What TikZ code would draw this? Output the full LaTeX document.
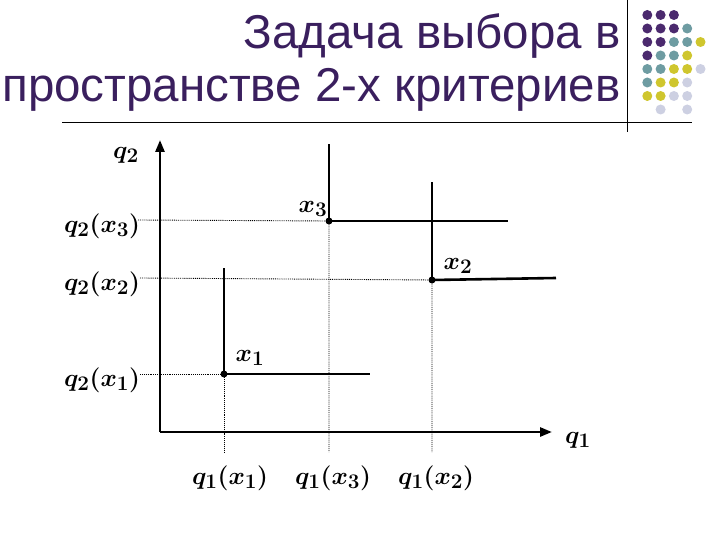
\documentclass[tikz,border=0pt]{standalone}
\usepackage{fontspec}
\setmainfont{Liberation Sans}
\usetikzlibrary{arrows.meta}
\definecolor{tpurple}{HTML}{3A1F5E}
\definecolor{dP}{HTML}{4B2A6E}
\definecolor{dT}{HTML}{6E9CA2}
\definecolor{dY}{HTML}{CFC62E}
\definecolor{dL}{HTML}{CDD0E2}
\begin{document}
\begin{tikzpicture}[x=1pt,y=-1pt,
  solid line/.style={line width=2.6pt},
  guide/.style={line width=0.9pt,densely dotted},
  lab/.style={font=\fontsize{28}{30}\selectfont\boldmath},
  pt/.style={circle,fill=black,inner sep=0pt,minimum size=7pt}]
\useasboundingbox (0,0) rectangle (720,540);
\node[anchor=east,text=tpurple,font=\fontsize{47.5}{50}\selectfont] (t1) at (624,36) {Задача выбора в};
\node[anchor=east,text=tpurple,font=\fontsize{47.5}{50}\selectfont] (t2) at (624,90) {пространстве 2-х критериев};
\draw[line width=0.8pt] (627,0) -- (627,132);
\draw[line width=0.8pt] (62,122) -- (692,122);
% dots
\foreach \r/\cols in {0/{1/dP,2/dP,3/dP},1/{1/dP,2/dP,3/dP,4/dT},2/{1/dP,2/dP,3/dT,4/dT,5/dY},3/{1/dP,2/dT,3/dT,4/dY},4/{1/dT,2/dT,3/dY,4/dY,5/dL},5/{1/dT,2/dY,3/dY,4/dL},6/{1/dY,2/dY,3/dL,4/dL},7/{2/dL,4/dL}}{
  \foreach \c/\col in \cols {
    \fill[\col] ({634+13.3*\c},{15+13.5*\r}) circle (5pt);
  }
}
% axes
\coordinate (o) at (160,432);
\coordinate (ytop) at (160,140);
\coordinate (xend) at (552,432);
\draw[line width=2.6pt,-{Triangle[length=12pt,width=9pt]}] (o) -- (ytop);
\draw[line width=2.6pt,-{Triangle[length=12pt,width=9pt]}] (o) -- (xend);
\node[lab,anchor=center] (lq2) at (126,155) {$q_2$};
\node[lab] (lq1) at (578,440) {$q_1$};
% points
\node[pt] (x1) at (224,374) {};
\node[pt] (x3) at (329,221) {};
\node[pt] (x2) at (432,280) {};
\node[lab] (lx1) at (250,358) {$x_1$};
\node[lab] (lx3) at (313,209) {$x_3$};
\node[lab] (lx2) at (458,266) {$x_2$};
% solid lines
\draw[solid line] (x1.center) -- (224,268);
\draw[solid line] (x1.center) -- (370,374);
\draw[solid line] (x3.center) -- (329,144);
\draw[solid line] (x3.center) -- (508,221);
\draw[solid line] (x2.center) -- (432,182);
\draw[solid line] (x2.center) -- (556,278);
% guides
\draw[guide] (140,374) -- (x1.center) -- (224,452);
\draw[guide] (138,220) -- (x3.center) -- (329,452);
\draw[guide] (140,278) -- (x2.center) -- (432,452);
% labels
\node[lab] (l31) at (102,380) {$q_2(x_1)$};
\node[lab] (l32) at (102,284) {$q_2(x_2)$};
\node[lab] (l33) at (102,226) {$q_2(x_3)$};
\node[lab] (l11) at (230,478) {$q_1(x_1)$};
\node[lab] (l13) at (333,478) {$q_1(x_3)$};
\node[lab] (l12) at (436,478) {$q_1(x_2)$};
\end{tikzpicture}
\end{document}
